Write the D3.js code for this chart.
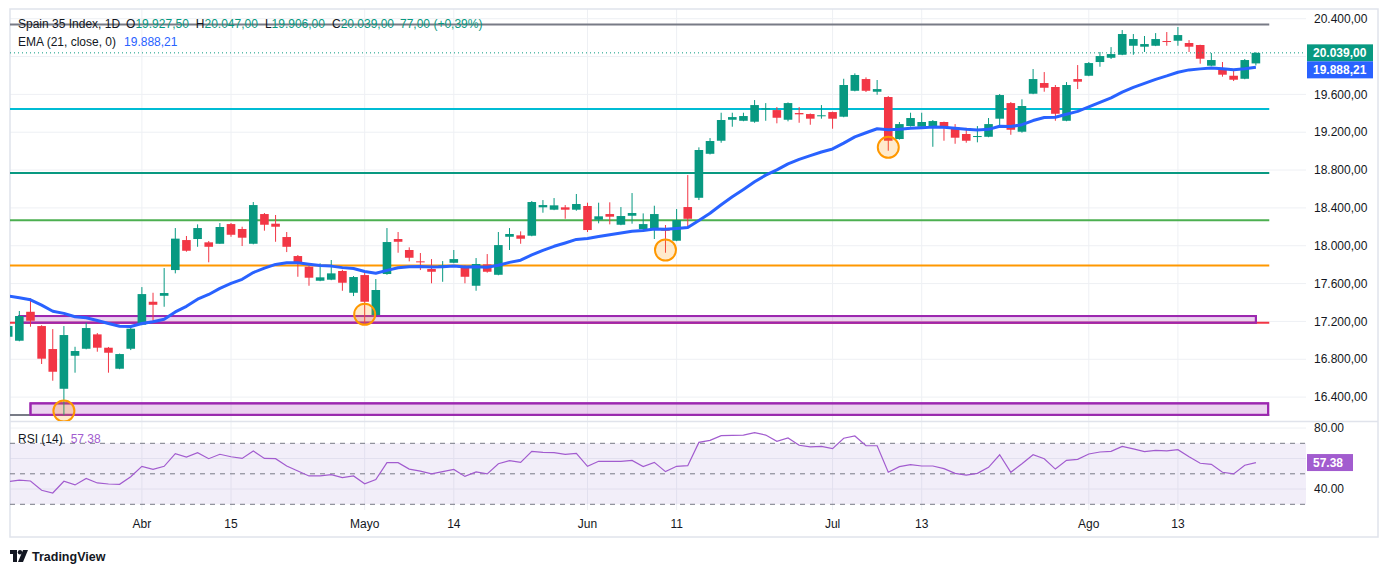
<!DOCTYPE html>
<html lang="es">
<head>
<meta charset="UTF-8" />
<title>Spain 35 Index</title>
<style>
  body { margin: 0; background: #ffffff; }
  svg text { font-family: "Liberation Sans", Arial, sans-serif; }
</style>
</head>
<body>
<svg id="chart" width="1388" height="575"></svg>
<script src="https://d3js.org/d3.v7.min.js"></script>
<script>
// daily candles, index 0 = first visible bar (mid March)
const opens = [17038,16996,17302,17151,16908,16488,16837,16911,17063,16922,
  16700,16911,17165,17408,17471,17743,18060,18071,18036,18021,
  18229,18177,18021,18335,18233,18092,17891,17778,17630,17641,
  17733,17503,17690,17267,17701,18071,17955,17835,17754,17772,
  17820,17767,17577,17803,17693,18095,18110,18106,18406,18381,
  18406,18381,18420,18275,18335,18222,18317,18177,18177,18169,
  18053,18409,18507,18972,19110,19332,19321,19311,19442,19434,
  19332,19403,19392,19371,19413,19364,19638,19762,19628,19572,
  19128,19265,19258,19258,19308,19252,19181,19149,19152,19343,
  19508,19205,19607,19720,19678,19321,19762,19797,19942,19987,
  20019,20114,20104,20114,20164,20167,20143,20122,19903,19871,
  19797,19765,19927.5];
const highs = [17193,17310,17444,17160,17119,17151,16932,17186,17077,16930,
  16860,17151,17563,17503,17764,18187,18103,18226,18050,18240,
  18240,18201,18462,18346,18325,18145,17902,17785,17814,17849,
  17746,17680,17733,17648,18187,18145,17983,17923,17859,17838,
  17955,17796,17870,17912,18145,18187,18152,18473,18483,18504,
  18430,18547,18455,18455,18459,18409,18557,18342,18423,18219,
  18388,18747,19040,19138,19406,19406,19406,19540,19508,19466,
  19515,19466,19398,19487,19418,19765,19822,19780,19752,19582,
  19308,19406,19406,19329,19312,19286,19247,19265,19350,19604,
  19519,19548,19868,19836,19699,19730,19910,19942,20048,20100,
  20280,20238,20217,20248,20259,20312,20174,20125,20037,19942,
  19868,19974,20047];
const lows = [17024,16990,17144,16750,16573,16210,16658,16905,16880,16658,
  16695,16897,17160,17197,17355,17708,17937,17989,17825,18021,
  18095,17997,18015,18159,18042,17933,17672,17577,17625,17636,
  17524,17468,17180,17257,17693,17926,17835,17743,17603,17619,
  17815,17603,17524,17715,17688,17955,18021,18100,18349,18376,
  18285,18370,18145,18237,18226,18217,18233,18148,18071,17926,
  18048,18194,18483,18965,19089,19258,19316,19300,19321,19294,
  19315,19300,19279,19343,19237,19358,19632,19625,19596,19004,
  19122,19260,19252,19046,19110,19078,19089,19093,19147,19252,
  19173,19195,19602,19628,19321,19316,19656,19792,19892,19974,
  20014,20019,20048,20110,20114,20114,20048,19924,19898,19787,
  19741,19760,19906];
const closes = [17151,17257,17207,16806,16668,17056,16887,17130,16922,16869,
  16855,17123,17489,17376,17500,18075,17947,18187,17989,18198,
  18116,18085,18430,18222,18201,17989,17817,17662,17666,17708,
  17609,17669,17408,17532,18039,18042,17873,17828,17725,17793,
  17859,17672,17807,17725,18007,18124,18074,18462,18430,18427,
  18381,18441,18166,18311,18307,18314,18346,18229,18335,18159,
  18272,18285,19012,19107,19329,19360,19371,19487,19452,19353,
  19508,19389,19343,19379,19343,19699,19805,19638,19656,19110,
  19286,19350,19308,19318,19247,19142,19110,19160,19286,19593,
  19226,19477,19762,19670,19395,19699,19734,19931,20005,20026,
  20238,20185,20132,20185,20156,20227,20104,19977,19963,19808,
  19755,19963,20039];
const rsiValues = [44.8,45.9,45.3,39.2,37.4,45.1,42.7,47.0,44.0,43.3,
  43.1,48.1,54.9,52.9,54.9,63.2,61.0,63.9,59.9,62.8,
  61.2,60.1,65.0,60.1,59.9,55.1,51.8,48.6,48.6,49.4,
  47.5,48.6,43.5,46.2,57.3,57.3,53.1,51.8,49.9,51.4,
  52.9,48.3,51.2,49.9,56.6,58.6,57.5,64.7,64.1,63.9,
  62.8,63.4,54.9,58.2,58.2,58.2,58.8,54.7,57.5,51.4,
  54.9,55.3,70.6,71.9,75.0,75.2,75.4,77.0,75.4,71.3,
  73.5,68.7,67.6,68.0,66.5,73.3,74.8,68.4,68.4,51.0,
  54.7,56.0,55.1,55.1,53.4,50.3,49.2,50.3,54.2,62.5,
  51.0,56.6,62.5,59.9,53.1,58.8,59.5,63.0,64.3,64.7,
  68.0,66.3,64.5,65.4,65.0,65.8,61.2,56.9,56.2,51.0,
  49.9,55.6,57.38];

const tickIndex = [12, 20, 32, 40, 52, 60, 74, 82, 97, 105];
const tickLabels = ["Abr", "15", "Mayo", "14", "Jun", "11", "Jul", "13", "Ago", "13"];
const priceTicks = [16400, 16800, 17200, 17600, 18000, 18400, 18800, 19200, 19600, 20000, 20400];
const rsiTicks = [80, 40];
const rsiGrid = [80, 60, 40];
const rsiBands = [70, 50, 30];

const emaPeriod = 21;
const emaStart = 17470;   // EMA value read at the first visible bar
const lastEma = 19888.21;
const lastChange = 77;
const lastChangePct = "+0,39%";

// drawings on the chart
const levelPrices = [20340, 19445, 18770, 18270, 17790, 17186, 16212];
const levelColors = ["#787b86", "#00bcd4", "#089981", "#4caf50", "#ff9800", "#f23645", "#787b86"];
const zoneTop = [17257, 16334];
const zoneBottom = [17186, 16212];
const zoneFrom = [1, 2];
const zoneTo = [112, 113.1];
const circleIndex = [5, 32, 59, 79];
const circlePrice = [16253, 17275, 17955, 19040];

const esLocale = d3.formatLocale({ decimal: ",", thousands: ".", grouping: [3], currency: ["", ""] });
const fmtPrice = esLocale.format(",.2f");
const fmtRsi = d3.format(".2f");

const UP = "#089981", DOWN = "#f23645", TXT = "#131722", RSI_C = "#a25ccf";

const plotL = 10, plotR = 1306, frameR = 1378;
const mainT = 9, mainB = 421, rsiT = 423, rsiB = 510, frameB = 537;

const svg = d3.select("#chart");
const x = d3.scaleLinear().domain([0, 112]).range([8.2, 1255.9]);
const y = d3.scaleLinear().domain([16400, 20400]).range([397.1, 18.7]);
const yR = d3.scaleLinear().domain([30, 70]).range([504.3, 443.3]);

const defs = svg.append("defs");
defs.append("clipPath").attr("id", "clipMain").append("rect")
  .attr("x", plotL).attr("y", mainT).attr("width", plotR - plotL).attr("height", mainB - mainT);
defs.append("clipPath").attr("id", "clipRsi").append("rect")
  .attr("x", plotL).attr("y", rsiT).attr("width", plotR - plotL).attr("height", rsiB - rsiT);

// grid
const grid = svg.append("g");
grid.selectAll("line.h").data(priceTicks).join("line")
  .attr("x1", plotL).attr("x2", plotR).attr("y1", d => y(d)).attr("y2", d => y(d))
  .attr("stroke", "#eef0f4").attr("stroke-width", 1);
grid.selectAll("line.v").data(tickIndex).join("line")
  .attr("x1", d => x(d)).attr("x2", d => x(d)).attr("y1", mainT).attr("y2", rsiB)
  .attr("stroke", "#eef0f4").attr("stroke-width", 1);
grid.selectAll("line.r").data(rsiGrid).join("line")
  .attr("x1", plotL).attr("x2", plotR).attr("y1", d => yR(d)).attr("y2", d => yR(d))
  .attr("stroke", "#eef0f4").attr("stroke-width", 1);

// frame
const frame = svg.append("g").attr("stroke", "#e0e3eb").attr("fill", "none");
frame.append("rect").attr("x", plotL).attr("y", mainT).attr("width", frameR - plotL).attr("height", frameB - mainT).attr("stroke-width", 1.5);
frame.append("line").attr("x1", plotL).attr("x2", frameR).attr("y1", mainB + 0.5).attr("y2", mainB + 0.5).attr("stroke-width", 1.5);

const main = svg.append("g").attr("clip-path", "url(#clipMain)");

// zones
main.selectAll("rect.zone").data(zoneTop).join("rect")
  .attr("x", (d, i) => x(zoneFrom[i]))
  .attr("width", (d, i) => x(zoneTo[i]) - x(zoneFrom[i]))
  .attr("y", d => y(d))
  .attr("height", (d, i) => y(zoneBottom[i]) - y(d))
  .attr("fill", "rgba(156,39,176,0.2)")
  .attr("stroke", "#9c27b0").attr("stroke-width", 2);

// horizontal levels
main.selectAll("line.level").data(levelPrices).join("line")
  .attr("x1", plotL).attr("x2", x(113.2))
  .attr("y1", d => y(d)).attr("y2", d => y(d))
  .attr("stroke", (d, i) => levelColors[i]).attr("stroke-width", 2);

// zone borders again, above the red / gray levels
main.selectAll("rect.zoneTop").data(zoneTop).join("rect")
  .attr("x", (d, i) => x(zoneFrom[i]))
  .attr("width", (d, i) => x(zoneTo[i]) - x(zoneFrom[i]))
  .attr("y", d => y(d))
  .attr("height", (d, i) => y(zoneBottom[i]) - y(d))
  .attr("fill", "none")
  .attr("stroke", "#9c27b0").attr("stroke-width", 2);

// candles
const bw = 8.6;
const candles = main.selectAll("g.candle").data(closes).join("g");
candles.append("line")
  .attr("x1", (d, i) => x(i)).attr("x2", (d, i) => x(i))
  .attr("y1", (d, i) => y(highs[i])).attr("y2", (d, i) => y(lows[i]))
  .attr("stroke", (d, i) => d >= opens[i] ? UP : DOWN).attr("stroke-width", 1);
candles.append("rect")
  .attr("x", (d, i) => x(i) - bw / 2).attr("width", bw)
  .attr("y", (d, i) => y(Math.max(d, opens[i])))
  .attr("height", (d, i) => Math.max(1, Math.abs(y(d) - y(opens[i]))))
  .attr("fill", (d, i) => d >= opens[i] ? UP : DOWN);

// EMA(21) of the closes
const alpha = 2 / (emaPeriod + 1);
const ema = [];
closes.forEach((c, i) => ema.push(i === 0 ? emaStart : ema[i - 1] + alpha * (c - ema[i - 1])));
main.append("path").datum(ema)
  .attr("d", d3.line().x((d, i) => x(i)).y(d => y(d)))
  .attr("fill", "none").attr("stroke", "#2962ff").attr("stroke-width", 3)
  .attr("stroke-linejoin", "round");

// circled lows
main.selectAll("circle.mark").data(circleIndex).join("circle")
  .attr("cx", d => x(d)).attr("cy", (d, i) => y(circlePrice[i])).attr("r", 10.5)
  .attr("fill", "rgba(255,152,0,0.2)").attr("stroke", "#ff9800").attr("stroke-width", 2);

// last price line
const last = closes.length - 1;
main.append("line")
  .attr("x1", plotL).attr("x2", plotR)
  .attr("y1", y(closes[last])).attr("y2", y(closes[last]))
  .attr("stroke", UP).attr("stroke-width", 1).attr("stroke-dasharray", "1,3");

// RSI pane
const rsi = svg.append("g").attr("clip-path", "url(#clipRsi)");
rsi.append("rect")
  .attr("x", plotL).attr("width", plotR - plotL)
  .attr("y", yR(70)).attr("height", yR(30) - yR(70))
  .attr("fill", "rgba(126,87,194,0.1)");
rsi.selectAll("line.band").data(rsiBands).join("line")
  .attr("x1", plotL).attr("x2", plotR).attr("y1", d => yR(d)).attr("y2", d => yR(d))
  .attr("stroke", "#787b86").attr("stroke-width", 1).attr("stroke-dasharray", "5,5");
rsi.append("path").datum(rsiValues)
  .attr("d", d3.line().x((d, i) => x(i)).y(d => yR(d)))
  .attr("fill", "none").attr("stroke", RSI_C).attr("stroke-width", 1.2);

// badge positions (ema badge pushed below the close badge when they collide)
const closeY = y(closes[last]);
const emaY = Math.max(y(lastEma), closeY + 17);
const rsiY = yR(rsiValues[last]);

// price scale, labels hidden where a badge sits
const scale = svg.append("g").attr("font-size", 12).attr("fill", TXT);
scale.selectAll("text.p")
  .data(priceTicks.filter(p => Math.abs(y(p) - closeY) > 13 && Math.abs(y(p) - emaY) > 13))
  .join("text")
  .attr("x", 1314).attr("y", d => y(d)).attr("dy", "0.35em").text(d => fmtPrice(d));
scale.selectAll("text.r").data(rsiTicks).join("text")
  .attr("x", 1314).attr("y", d => yR(d)).attr("dy", "0.35em").text(d => fmtRsi(d));

function badge(cy, color, label, w) {
  svg.append("rect").attr("x", plotR + 1).attr("y", cy - 8.5).attr("width", w).attr("height", 17).attr("fill", color);
  svg.append("text").attr("x", 1313).attr("y", cy).attr("dy", "0.35em")
    .attr("font-size", 12).attr("font-weight", "bold").attr("fill", "#fff").text(label);
}
badge(closeY, UP, fmtPrice(closes[last]), 66);
badge(emaY, "#2962ff", fmtPrice(lastEma), 66);
badge(rsiY, RSI_C, fmtRsi(rsiValues[last]), 46);

// time axis
svg.append("g").attr("font-size", 12).attr("fill", TXT).attr("text-anchor", "middle")
  .selectAll("text").data(tickIndex).join("text")
  .attr("x", d => x(d)).attr("y", 524).attr("dy", "0.35em")
  .text((d, i) => tickLabels[i]);

// legends
function legendRow(yy, parts) {
  let cx = 18;
  parts.forEach(p => {
    const t = svg.append("text").attr("x", cx).attr("y", yy).attr("dy", "0.35em")
      .attr("font-size", 12).attr("fill", p.c).text(p.t);
    cx += t.node().getComputedTextLength() + (p.gap || 0);
  });
}
legendRow(24, [
  { t: "Spain 35 Index, 1D", c: TXT, gap: 6 },
  { t: "O", c: TXT }, { t: fmtPrice(opens[last]), c: UP, gap: 7 },
  { t: "H", c: TXT }, { t: fmtPrice(highs[last]), c: UP, gap: 7 },
  { t: "L", c: TXT }, { t: fmtPrice(lows[last]), c: UP, gap: 7 },
  { t: "C", c: TXT }, { t: fmtPrice(closes[last]), c: UP, gap: 6 },
  { t: fmtPrice(lastChange) + " (" + lastChangePct + ")", c: UP }
]);
legendRow(42, [
  { t: "EMA (21, close, 0)", c: TXT, gap: 8 },
  { t: fmtPrice(lastEma), c: "#2962ff" }
]);
legendRow(439, [
  { t: "RSI (14)", c: TXT, gap: 8 },
  { t: fmtRsi(rsiValues[last]), c: RSI_C }
]);

// TradingView mark
const logo = svg.append("g").attr("transform", "translate(10,550)").attr("fill", TXT);
logo.append("path").attr("d", "M0 0 H7 V12 H3 V4 H0 Z");
logo.append("circle").attr("cx", 10).attr("cy", 2.2).attr("r", 2.2);
logo.append("path").attr("d", "M13 0 H18 L13 12 H8 Z");
svg.append("text").attr("x", 32).attr("y", 557).attr("dy", "0.35em")
  .attr("font-size", 12.5).attr("font-weight", "bold").attr("fill", TXT).text("TradingView");
</script>
</body>
</html>
